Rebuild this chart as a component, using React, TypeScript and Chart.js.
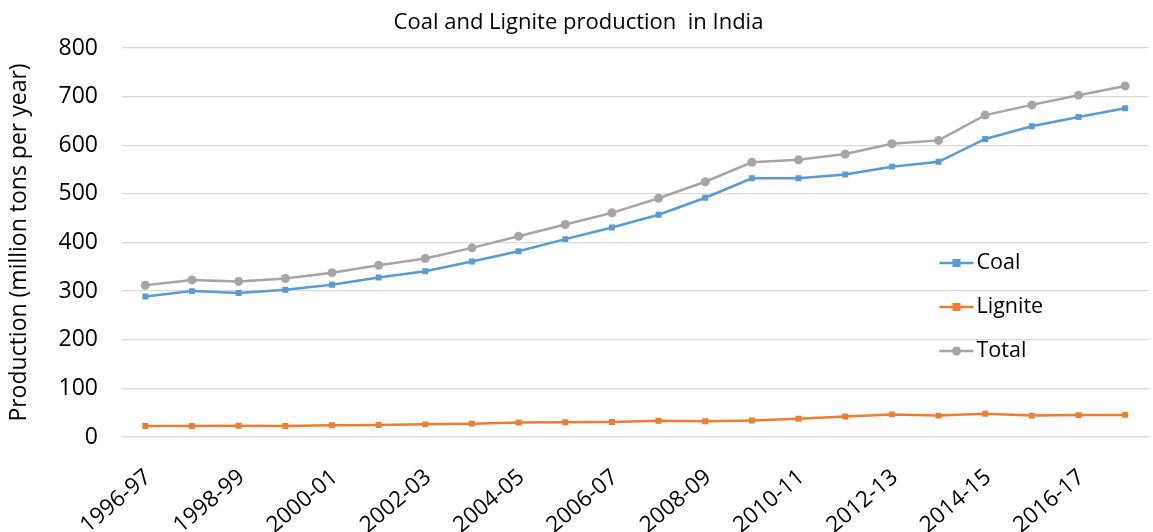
import React, { useEffect, useRef } from "react";
import { Chart, registerables } from "chart.js";

Chart.register(...registerables);

const categories = [
  "1996-97", "1997-98", "1998-99", "1999-00", "2000-01", "2001-02", "2002-03", "2003-04",
  "2004-05", "2005-06", "2006-07", "2007-08", "2008-09", "2009-10", "2010-11", "2011-12",
  "2012-13", "2013-14", "2014-15", "2015-16", "2016-17", "2017-18",
];
const coal = [289, 300, 296, 303, 313, 328, 341, 361, 382, 407, 431, 457, 492, 532, 532, 540, 556, 566, 613, 639, 658, 676];
const lignite = [22.5, 22.8, 23, 22.5, 24, 24.5, 26, 27.5, 30, 30.2, 31, 33.5, 32.4, 34, 37.5, 42.3, 46.5, 44, 48, 44, 45, 45.5];
const total = [312, 323, 320, 326, 338, 353, 367, 389, 413, 437, 461, 491, 525, 565, 570, 582, 603, 610, 662, 683, 703, 722];
const yTicks = [0, 100, 200, 300, 400, 500, 600, 700, 800];

const FONT = "'Open Sans', 'Noto Sans', sans-serif";
const COLORS = ["#5B9BD5", "#ED7D31", "#A5A5A5"];
const NAMES = ["Coal", "Lignite", "Total"];
const STYLES = ["rect", "rect", "circle"];

const legendPlugin = {
  id: "insideLegend",
  afterDraw(chart: any) {
    const ctx = chart.ctx;
    const ca = chart.chartArea;
    const x0 = ca.right - 209;
    const ys = [263, 307, 351];
    ctx.save();
    NAMES.forEach((n, i) => {
      const y = ys[i];
      ctx.strokeStyle = COLORS[i];
      ctx.lineWidth = 2.5;
      ctx.beginPath();
      ctx.moveTo(x0, y);
      ctx.lineTo(x0 + 34, y);
      ctx.stroke();
      ctx.fillStyle = COLORS[i];
      if (STYLES[i] === "circle") {
        ctx.beginPath();
        ctx.arc(x0 + 17, y, 4.5, 0, Math.PI * 2);
        ctx.fill();
      } else {
        ctx.fillRect(x0 + 13, y - 4, 8, 8);
      }
      ctx.fillStyle = "#000";
      ctx.font = `21.5px ${FONT}`;
      ctx.textBaseline = "middle";
      ctx.textAlign = "left";
      ctx.fillText(n, x0 + 37, y);
    });
    ctx.restore();
  },
};

export default function App() {
  const ref = useRef<HTMLCanvasElement>(null);
  useEffect(() => {
    document.body.style.margin = "0";
    const series = [coal, lignite, total];
    const chart = new Chart(ref.current!, {
      type: "line",
      data: {
        labels: categories,
        datasets: series.map((d, i) => ({
          label: NAMES[i],
          data: d,
          borderColor: COLORS[i],
          backgroundColor: COLORS[i],
          borderWidth: 2.5,
          pointStyle: STYLES[i] as any,
          pointRadius: STYLES[i] === "circle" ? 4.5 : 4.2,
          pointBorderWidth: 0,
          tension: 0,
        })),
      },
      options: {
        animation: false,
        responsive: false,
        layout: { padding: { left: 0, right: -4, top: 10, bottom: 0 } },
        plugins: {
          legend: { display: false },
          tooltip: { enabled: false },
          title: {
            display: true,
            text: "Coal and Lignite production  in India",
            color: "#000",
            font: { family: FONT, size: 22, weight: "normal" },
            padding: { top: 0, bottom: 11.6 },
          },
        },
        scales: {
          x: {
            offset: true,
            grid: { display: false },
            border: { display: false },
            ticks: {
              autoSkip: false,
              maxRotation: 40,
              minRotation: 40,
              padding: 19,
              labelOffset: 3,
              color: "#000",
              font: { family: FONT, size: 22.5 },
              callback: (v: any, i: number) => (i % 2 === 0 ? categories[i] : ""),
            },
            afterFit: (s: any) => {
              s.height = 95;
              s.paddingRight = 0;
              s.paddingLeft = 0;
            },
          },
          y: {
            min: 0,
            max: 800,
            afterBuildTicks: (s: any) => {
              s.ticks = yTicks.map((v) => ({ value: v }));
            },
            grid: { color: "#D9D9D9", lineWidth: 1.3, drawTicks: false },
            border: { display: false },
            ticks: {
              color: "#000",
              padding: 24,
              font: { family: FONT, size: 23 },
            },
            title: {
              display: true,
              text: "Production (million tons per year)",
              color: "#000",
              font: { family: FONT, size: 23 },
              padding: { top: 6, bottom: 0 },
            },
            afterFit: (s: any) => {
              s.width = 122;
            },
          },
        },
      },
      plugins: [legendPlugin],
    });
    return () => chart.destroy();
  }, []);
  return (
    <div style={{ width: 1153, height: 532 }}>
      <canvas ref={ref} width={1153} height={532} />
    </div>
  );
}
